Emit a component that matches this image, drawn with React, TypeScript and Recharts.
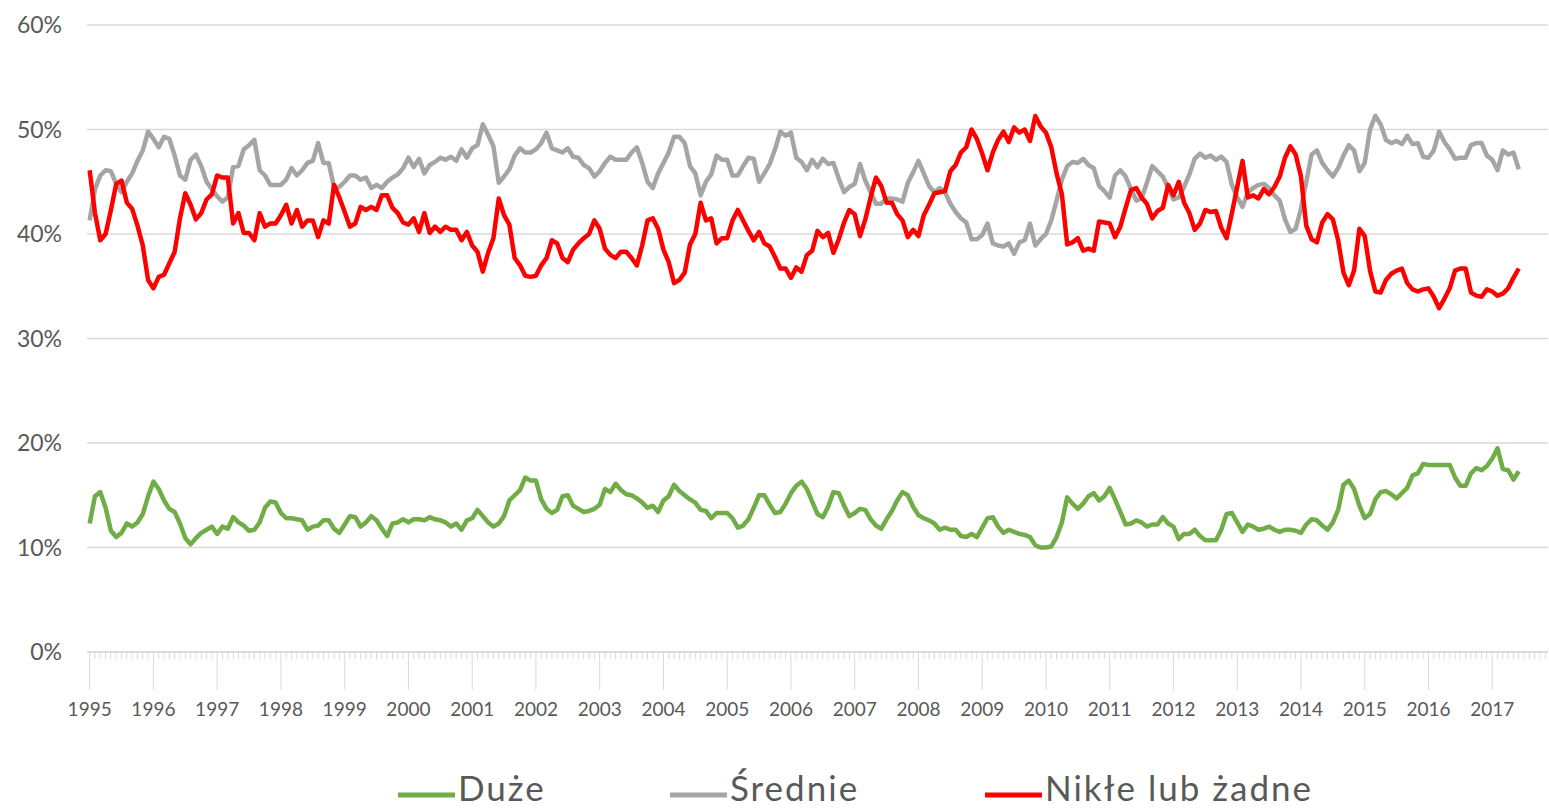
import { LineChart, Line, XAxis, YAxis, CartesianGrid } from "recharts";

// monthly shares, Jan 1995 – Jun 2017
const years = [
  "1995", "1996", "1997", "1998", "1999", "2000", "2001", "2002", "2003", "2004", "2005", "2006",
  "2007", "2008", "2009", "2010", "2011", "2012", "2013", "2014", "2015", "2016", "2017",
];

const duze = [
  12.3, 14.9, 15.3, 13.8, 11.6, 11, 11.4, 12.3, 12, 12.4, 13.2, 14.9,
  16.3, 15.6, 14.5, 13.7, 13.4, 12.3, 10.9, 10.3, 10.9, 11.4, 11.7, 12,
  11.3, 12, 11.8, 12.9, 12.4, 12.1, 11.6, 11.7, 12.4, 13.8, 14.4, 14.3,
  13.3, 12.8, 12.8, 12.7, 12.6, 11.7, 12, 12.1, 12.6, 12.6, 11.8, 11.4,
  12.2, 13, 12.9, 12, 12.4, 13, 12.6, 11.8, 11.1, 12.3, 12.4, 12.7,
  12.4, 12.7, 12.7, 12.6, 12.9, 12.7, 12.6, 12.4, 12, 12.3, 11.7, 12.6,
  12.8, 13.6, 13, 12.4, 12, 12.3, 13, 14.5, 15, 15.5, 16.7, 16.4,
  16.4, 14.6, 13.7, 13.3, 13.6, 14.9, 15, 14, 13.7, 13.4, 13.5, 13.7,
  14.1, 15.6, 15.3, 16.1, 15.5, 15.1, 15, 14.7, 14.3, 13.8, 14, 13.4,
  14.5, 14.9, 16, 15.4, 15, 14.6, 14.3, 13.6, 13.5, 12.8, 13.3, 13.3,
  13.3, 12.8, 11.9, 12.1, 12.7, 13.8, 15, 15, 14.1, 13.3, 13.4, 14.2,
  15.2, 15.9, 16.3, 15.6, 14.4, 13.2, 12.9, 13.9, 15.3, 15.2, 14, 13,
  13.3, 13.7, 13.6, 12.7, 12.1, 11.8, 12.7, 13.5, 14.5, 15.3, 15, 13.9,
  13.1, 12.8, 12.6, 12.3, 11.7, 11.9, 11.7, 11.7, 11.1, 11, 11.3, 11,
  11.9, 12.8, 12.9, 12, 11.4, 11.7, 11.5, 11.3, 11.2, 11, 10.2, 10,
  10, 10.1, 11, 12.4, 14.8, 14.2, 13.7, 14.2, 14.9, 15.2, 14.5, 14.9,
  15.7, 14.6, 13.4, 12.2, 12.3, 12.6, 12.4, 12, 12.2, 12.2, 12.9, 12.3,
  12, 10.8, 11.3, 11.3, 11.7, 11.1, 10.7, 10.7, 10.7, 11.7, 13.2, 13.3,
  12.4, 11.5, 12.2, 12, 11.7, 11.8, 12, 11.7, 11.5, 11.7, 11.7, 11.6,
  11.4, 12.2, 12.7, 12.6, 12.1, 11.7, 12.4, 13.6, 16, 16.4, 15.6, 14,
  12.8, 13.2, 14.6, 15.3, 15.4, 15.1, 14.7, 15.2, 15.7, 16.9, 17.1, 18,
  17.9, 17.9, 17.9, 17.9, 17.9, 16.7, 15.9, 15.9, 17.1, 17.6, 17.4, 17.8,
  18.5, 19.5, 17.5, 17.4, 16.5, 17.3,
];

const srednie = [
  41.3, 44.3, 45.6, 46.1, 46, 44.8, 44, 45, 45.8, 47, 48, 49.8,
  49.1, 48.3, 49.3, 49.1, 47.5, 45.6, 45.2, 47.1, 47.6, 46.5, 45, 44.3,
  43.6, 43.1, 43.5, 46.4, 46.5, 48.1, 48.5, 49, 46.1, 45.6, 44.7, 44.7,
  44.7, 45.2, 46.3, 45.6, 46.1, 46.8, 47, 48.7, 46.8, 46.8, 44.5, 44.5,
  45, 45.6, 45.6, 45.2, 45.4, 44.4, 44.7, 44.4, 45, 45.4, 45.7, 46.3,
  47.3, 46.4, 47.2, 45.8, 46.6, 46.9, 47.3, 47.1, 47.4, 47, 48.1, 47.3,
  48.2, 48.5, 50.5, 49.5, 48.4, 44.9, 45.5, 46.2, 47.5, 48.2, 47.8, 47.8,
  48.1, 48.7, 49.7, 48.2, 48, 47.8, 48.2, 47.4, 47.3, 46.6, 46.3, 45.5,
  46, 46.8, 47.4, 47.1, 47.1, 47.1, 47.8, 48.3, 46.8, 45, 44.4, 45.8,
  46.8, 47.8, 49.3, 49.3, 48.7, 46.5, 45.8, 43.7, 45, 45.7, 47.5, 47.1,
  47.1, 45.6, 45.6, 46.5, 47.3, 47.2, 45, 45.8, 46.7, 48.1, 49.8, 49.4,
  49.7, 47.3, 46.9, 46.1, 47.1, 46.4, 47.2, 46.7, 46.8, 45.3, 44, 44.5,
  44.8, 46.7, 45.1, 44, 42.9, 42.9, 43.4, 43.4, 43.3, 43.1, 44.9, 45.9,
  47, 45.8, 44.6, 44, 44.4, 44, 42.9, 42.1, 41.5, 41.1, 39.5, 39.5,
  39.9, 41, 39.1, 38.9, 38.8, 39.1, 38.1, 39.2, 39.4, 41, 38.9, 39.5,
  40, 41.3, 43.2, 45.2, 46.5, 46.9, 46.8, 47.2, 46.6, 46.3, 44.6, 44.1,
  43.5, 45.6, 46.1, 45.5, 44.3, 43.2, 43.4, 44.9, 46.5, 46, 45.5, 44.4,
  43.3, 43.5, 44.5, 45.7, 47.2, 47.7, 47.3, 47.5, 47.1, 47.4, 46.9, 44.7,
  43.5, 42.6, 44, 44.4, 44.7, 44.8, 44.4, 43.7, 43.2, 41.4, 40.2, 40.5,
  42.4, 45, 47.6, 48, 46.8, 46.1, 45.5, 46.3, 47.5, 48.5, 48, 46,
  46.8, 50, 51.3, 50.5, 49, 48.7, 48.9, 48.6, 49.4, 48.6, 48.7, 47.4,
  47.3, 48, 49.8, 48.8, 48.1, 47.2, 47.3, 47.3, 48.5, 48.7, 48.7, 47.5,
  47.1, 46.1, 48, 47.6, 47.8, 46.2,
];

const nikle = [
  46.1, 42, 39.4, 40, 42.3, 44.8, 45.1, 43, 42.4, 40.8, 38.9, 35.6,
  34.8, 35.9, 36.1, 37.2, 38.3, 41.5, 43.9, 42.8, 41.4, 42, 43.3, 43.8,
  45.6, 45.4, 45.4, 41, 42, 40.1, 40.1, 39.4, 42, 40.7, 41, 41,
  41.8, 42.8, 41, 42.3, 40.7, 41.3, 41.3, 39.7, 41.3, 41, 44.7, 43.5,
  42.1, 40.7, 41, 42.6, 42.3, 42.6, 42.3, 43.7, 43.7, 42.5, 42, 41.1,
  40.9, 41.5, 40.2, 42, 40.1, 40.7, 40.2, 40.7, 40.4, 40.4, 39.4, 40.2,
  38.9, 38.3, 36.4, 38.2, 39.6, 43.4, 41.8, 40.9, 37.7, 37, 36, 35.9,
  36, 37, 37.7, 39.4, 39.1, 37.7, 37.3, 38.5, 39.1, 39.6, 40, 41.3,
  40.5, 38.6, 38, 37.7, 38.3, 38.3, 37.7, 37, 38.9, 41.3, 41.5, 40.5,
  38.5, 37.3, 35.3, 35.6, 36.3, 39, 40, 43, 41.3, 41.5, 39.1, 39.6,
  39.6, 41.3, 42.3, 41.3, 40.3, 39.4, 40.2, 39.1, 38.8, 37.8, 36.7, 36.7,
  35.8, 36.8, 36.4, 38, 38.4, 40.3, 39.7, 40.1, 38.2, 39.5, 41.1, 42.3,
  41.9, 39.8, 41.4, 43.5, 45.4, 44.6, 43, 43, 41.9, 41.3, 39.7, 40.4,
  39.8, 41.8, 42.8, 43.9, 44, 44.1, 46, 46.6, 47.8, 48.3, 50, 49.1,
  47.7, 46.1, 47.8, 49, 49.8, 48.8, 50.2, 49.7, 50, 48.9, 51.3, 50.3,
  49.7, 48.3, 45.8, 43.8, 39, 39.2, 39.6, 38.4, 38.6, 38.4, 41.2, 41.1,
  41, 39.7, 40.7, 42.5, 44.2, 44.4, 43.5, 42.9, 41.5, 42.2, 42.5, 44.7,
  43.7, 45, 43, 42, 40.4, 41, 42.3, 42.1, 42.2, 40.6, 39.6, 42,
  44.5, 47, 43.5, 43.7, 43.4, 44.3, 43.8, 44.5, 45.5, 47.3, 48.4, 47.6,
  45.5, 40.8, 39.5, 39.2, 41.1, 41.9, 41.4, 39.4, 36.3, 35.1, 36.5, 40.5,
  39.8, 36.5, 34.5, 34.4, 35.6, 36.2, 36.5, 36.7, 35.3, 34.7, 34.5, 34.7,
  34.8, 34, 32.9, 33.8, 34.8, 36.5, 36.7, 36.7, 34.4, 34.1, 34, 34.7,
  34.5, 34.1, 34.3, 34.8, 35.8, 36.7,
];

const yTicks = [0, 10, 20, 30, 40, 50, 60];

const series = [
  { key: "duze", name: "Duże", color: "#70AD47" },
  { key: "srednie", name: "Średnie", color: "#A5A5A5" },
  { key: "nikle", name: "Nikłe lub żadne", color: "#FF0000" },
];

const data = duze.map((v, i) => ({ m: i, duze: v, srednie: srednie[i], nikle: nikle[i] }));
const monthTicks = Array.from({ length: 275 }, (_, i) => i);

const FONT = "Lato, 'Open Sans', sans-serif";
const TEXT = "#595959";

function MonthTick(props: any) {
  const { x, y, payload } = props;
  const m = payload.value as number;
  const isYear = m % 12 === 0;
  const label = isYear ? years[m / 12] : null;
  return (
    <g>
      <line x1={x} x2={x} y1={y} y2={y + (isYear ? 38 : 7)} stroke="#d9d9d9" strokeWidth={1} />
      {label && (
        <text x={x} y={y + 64} textAnchor="middle" fill={TEXT} fontSize={19} fontFamily={FONT}>
          {label}
        </text>
      )}
    </g>
  );
}

const legendPos = [398, 670, 985];

export default function App() {
  return (
    <div style={{ position: "absolute", left: 0, top: 0, width: 1549, height: 810, background: "#fff", overflow: "hidden" }}>
      <LineChart width={1549} height={810} data={data} margin={{ top: 25, right: 1, bottom: 0, left: 0 }}>
        <CartesianGrid horizontal vertical={false} stroke="#d9d9d9" strokeWidth={1.5} />
        <XAxis
          dataKey="m"
          type="number"
          domain={[-0.5, 274.5]}
          ticks={monthTicks}
          interval={0}
          height={158}
          tickSize={0}
          tickMargin={0}
          tickLine={false}
          axisLine={{ stroke: "#d9d9d9", strokeWidth: 1.5 }}
          tick={<MonthTick />}
        />
        <YAxis
          type="number"
          domain={[0, 60]}
          ticks={yTicks}
          width={87}
          axisLine={false}
          tickLine={false}
          tickSize={0}
          tickMargin={25}
          tickFormatter={(v) => `${v}%`}
          tick={{ fill: TEXT, fontSize: 23, fontFamily: FONT }}
        />
        {series.map((s) => (
          <Line
            key={s.key}
            type="linear"
            dataKey={s.key}
            name={s.name}
            stroke={s.color}
            strokeWidth={4.5}
            strokeLinejoin="round"
            dot={false}
            activeDot={false}
            isAnimationActive={false}
          />
        ))}
      </LineChart>
      <svg width={1549} height={60} style={{ position: "absolute", left: 0, top: 750 }}>
        {series.map((s, i) => (
          <g key={s.key}>
            <line x1={legendPos[i]} x2={legendPos[i] + 57} y1={45} y2={45} stroke={s.color} strokeWidth={5} />
            <text x={legendPos[i] + 60} y={51} fill={TEXT} fontSize={35} letterSpacing={2} fontFamily={FONT}>
              {s.name}
            </text>
          </g>
        ))}
      </svg>
    </div>
  );
}
